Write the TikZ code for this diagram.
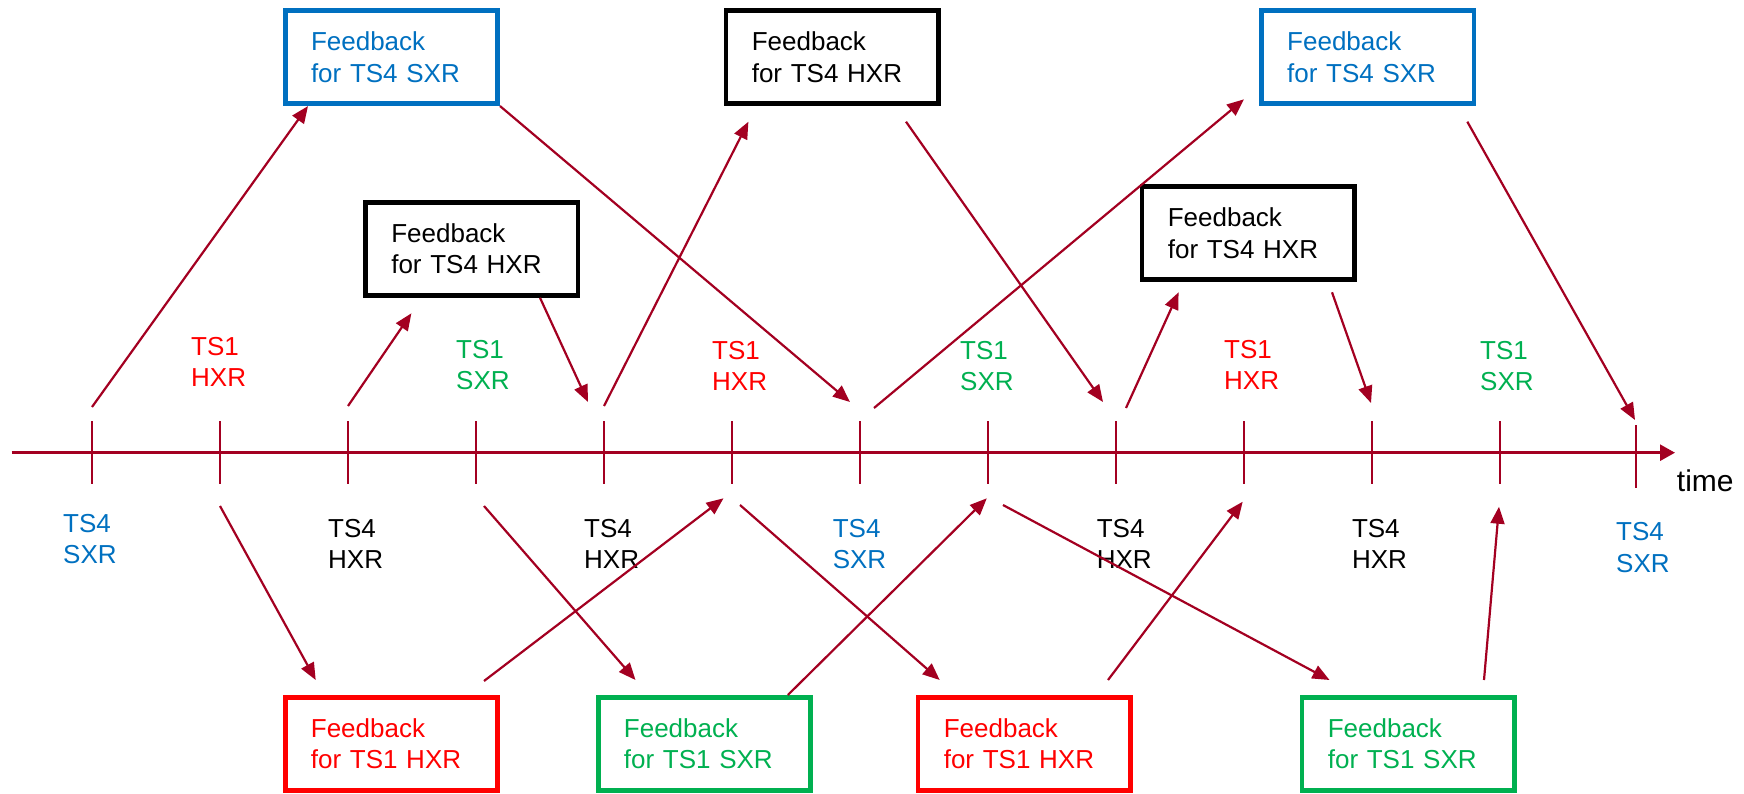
\documentclass[tikz,border=0pt]{standalone}
\usepackage{fontspec}
\setmainfont{Liberation Sans}
\usetikzlibrary{arrows.meta,calc}
\definecolor{arrowred}{RGB}{163,0,33}
\definecolor{fbblue}{RGB}{0,112,192}
\definecolor{fbgreen}{RGB}{0,176,80}
\definecolor{fbred}{RGB}{255,0,0}
\newcommand\fbfont{\fontsize{26}{31.3}\selectfont}
\tikzset{
  fb/.style={draw, line width=4.6pt, minimum width=212.4pt, minimum height=93.1pt,
    inner xsep=25.7pt, inner ysep=0pt, text width=161pt, align=left, font=\fbfont},
  fbbk/.style={fb, draw=black, text=black},
  fbbl/.style={fb, draw=fbblue, text=fbblue},
  fbrd/.style={fb, draw=fbred, text=fbred},
  fbgr/.style={fb, draw=fbgreen, text=fbgreen},
  slot/.style={inner sep=0pt, align=left, anchor=west, font=\fbfont},
  conn/.style={draw=arrowred, line width=2.2pt, -{Triangle[length=17pt,width=14pt]}},
  axisline/.style={draw=arrowred, line width=2.6pt, -{Triangle[length=15pt,width=16pt]}},
  tickmark/.style={draw=arrowred, line width=2.2pt}
}
\begin{document}
\begin{tikzpicture}[x=1pt,y=-1pt]
\useasboundingbox (0,0) rectangle (1744,794);

% time axis with tick marks
\coordinate (ax0) at (11.5,452.7);
\coordinate (ax1) at (1675,452.7);
\draw[axisline] (ax0) -- (ax1);
\foreach \x in {92,220,348,476,604,732,860,988,1116,1244,1372,1500}
  \draw[tickmark] (\x,421.3) -- (\x,484.3);
\draw[tickmark] (1636,425) -- (1636,488);
\node[anchor=base west, inner sep=0pt, font=\fontsize{30}{36}\selectfont] (time) at (1676.7,491.7) {time};

% slot labels above the axis
\node[slot, text=fbred]   (s2)  at (191,362)  {TS1\\HXR};
\node[slot, text=fbgreen] (s4)  at (456,365)  {TS1\\SXR};
\node[slot, text=fbred]   (s6)  at (712,366)  {TS1\\HXR};
\node[slot, text=fbgreen] (s8)  at (960,366)  {TS1\\SXR};
\node[slot, text=fbred]   (s10) at (1224,365) {TS1\\HXR};
\node[slot, text=fbgreen] (s12) at (1480,366) {TS1\\SXR};

% slot labels below the axis
\node[slot, text=fbblue] (s1)  at (63,539)    {TS4\\SXR};
\node[slot, text=black]  (s3)  at (328,544)   {TS4\\HXR};
\node[slot, text=black]  (s5)  at (584,544)   {TS4\\HXR};
\node[slot, text=fbblue] (s7)  at (832.6,544) {TS4\\SXR};
\node[slot, text=black]  (s9)  at (1096.6,544) {TS4\\HXR};
\node[slot, text=black]  (s11) at (1351.8,544) {TS4\\HXR};
\node[slot, text=fbblue] (s13) at (1616,547.5) {TS4\\SXR};

% feedback boxes
\node[fbbl] (A) at (391.5,57.2)  {Feedback\\for TS4 SXR};
\node[fbbk] (B) at (471.8,248.9) {Feedback\\for TS4 HXR};
\node[fbbk] (C) at (832.3,57.2)  {Feedback\\for TS4 HXR};
\node[fbbl] (D) at (1367.7,57.2) {Feedback\\for TS4 SXR};
\node[fbbk] (E) at (1248.3,233.2) {Feedback\\for TS4 HXR};
\node[fbrd] (F) at (391.4,743.9) {Feedback\\for TS1 HXR};
\node[fbgr] (G) at (704.4,743.9) {Feedback\\for TS1 SXR};
\node[fbrd] (H) at (1024.3,743.9) {Feedback\\for TS1 HXR};
\node[fbgr] (I) at (1408.3,743.9) {Feedback\\for TS1 SXR};

% free ends of the connectors
\coordinate (u1) at (92,407);
\coordinate (u2) at (850,402);
\coordinate (u3s) at (348,406);
\coordinate (u3e) at (411.4,313.3);
\coordinate (u4) at (588,402);
\coordinate (u5s) at (604,406);
\coordinate (u5e) at (748.4,121.7);
\coordinate (u6s) at (906,121.7);
\coordinate (u6e) at (1103,402);
\coordinate (u7s) at (874,408);
\coordinate (u7e) at (1244,99.3);
\coordinate (u8s) at (1126,408);
\coordinate (u8e) at (1178.6,292.3);
\coordinate (u9s) at (1332,292.3);
\coordinate (u9e) at (1371,403);
\coordinate (u10s) at (1467.3,121.7);
\coordinate (u10e) at (1635,420);
\coordinate (d11s) at (220,506);
\coordinate (d11e) at (315.7,680);
\coordinate (d12s) at (484,681);
\coordinate (d12e) at (723.5,498.3);
\coordinate (d13s) at (484,506);
\coordinate (d13e) at (635.5,680);
\coordinate (d14e) at (986.8,498.3);
\coordinate (d15s) at (740,505);
\coordinate (d15e) at (939.7,680);
\coordinate (d16s) at (1108,680);
\coordinate (d16e) at (1242.7,501.7);
\coordinate (d17s) at (1003,505);
\coordinate (d17e) at (1329.5,680);
\coordinate (d18s) at (1484,680);
\coordinate (d18e) at (1499,506.7);

% connectors above the axis
\draw[conn] (u1) -- ($(A.south)+(-83.5,0)$);
\draw[conn] (A.south east) -- (u2);
\draw[conn] (u3s) -- (u3e);
\draw[conn] ($(B.south)+(68.2,0)$) -- (u4);
\draw[conn] (u5s) -- (u5e);
\draw[conn] (u6s) -- (u6e);
\draw[conn] (u7s) -- (u7e);
\draw[conn] (u8s) -- (u8e);
\draw[conn] (u9s) -- (u9e);
\draw[conn] (u10s) -- (u10e);

% connectors below the axis
\draw[conn] (d11s) -- (d11e);
\draw[conn] (d12s) -- (d12e);
\draw[conn] (d13s) -- (d13e);
\draw[conn] ($(G.north)+(83.4,0)$) -- (d14e);
\draw[conn] (d15s) -- (d15e);
\draw[conn] (d16s) -- (d16e);
\draw[conn] (d17s) -- (d17e);
\draw[conn] (d18s) -- (d18e);
\end{tikzpicture}
\end{document}
